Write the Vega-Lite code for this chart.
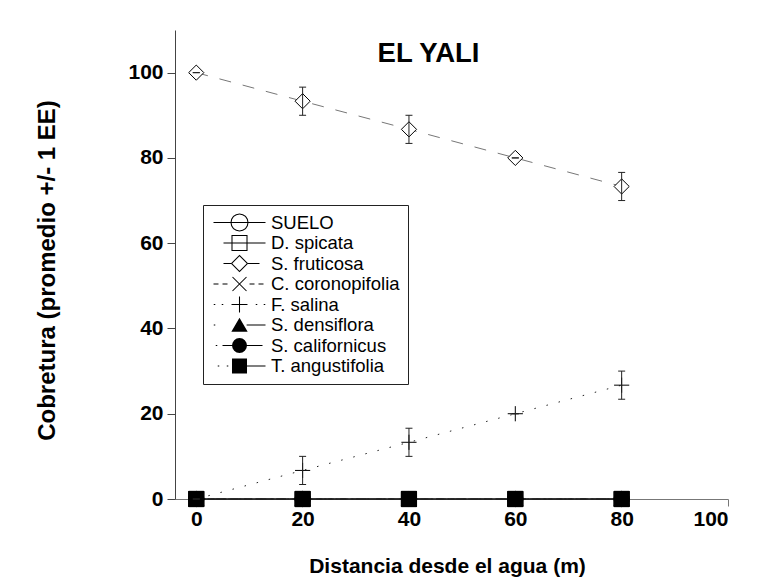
{
  "$schema": "https://vega.github.io/schema/vega-lite/v6.json",
  "width": 553,
  "height": 469,
  "autosize": {"type": "none"},
  "padding": {"left": 175, "top": 30, "right": 39, "bottom": 85},
  "background": "white",
  "config": {
    "view": {"stroke": null},
    "font": "Liberation Sans",
    "axisX": {"grid": false, "tickSize": 7, "labelPadding": 2, "labelFont": "Liberation Sans", "labelFontSize": 21, "labelFontWeight": "bold", "labelColor": "black", "domainColor": "#777", "tickColor": "#777", "titleFont": "Liberation Sans", "titleFontSize": 21, "titleFontWeight": "bold", "titleColor": "black", "titlePadding": 26, "titleX": 272},
    "axisY": {"grid": false, "tickSize": 8, "labelPadding": 4, "labelFont": "Liberation Sans", "labelFontSize": 21, "labelFontWeight": "bold", "labelColor": "black", "domainColor": "#444", "tickColor": "#444", "titleFont": "Liberation Sans", "titleFontSize": 24, "titleFontWeight": "bold", "titleColor": "black", "titlePadding": 68, "titleY": 240}
  },
  "title": {"text": "EL YALI", "fontSize": 27.5, "fontWeight": "bold", "font": "Liberation Sans", "color": "black", "anchor": "middle", "frame": "group", "dx": -23, "offset": -59, "baseline": "alphabetic"},
  "resolve": {"scale": {"shape": "independent"}},
  "datasets": {
    "pts": [
      {"species": "SUELO", "x": 0, "y": 0}, {"species": "SUELO", "x": 20, "y": 0}, {"species": "SUELO", "x": 40, "y": 0}, {"species": "SUELO", "x": 60, "y": 0}, {"species": "SUELO", "x": 80, "y": 0},
      {"species": "D. spicata", "x": 0, "y": 0}, {"species": "D. spicata", "x": 20, "y": 0}, {"species": "D. spicata", "x": 40, "y": 0}, {"species": "D. spicata", "x": 60, "y": 0}, {"species": "D. spicata", "x": 80, "y": 0},
      {"species": "S. fruticosa", "x": 0, "y": 100}, {"species": "S. fruticosa", "x": 20, "y": 93.3}, {"species": "S. fruticosa", "x": 40, "y": 86.7}, {"species": "S. fruticosa", "x": 60, "y": 80}, {"species": "S. fruticosa", "x": 80, "y": 73.3},
      {"species": "C. coronopifolia", "x": 0, "y": 0}, {"species": "C. coronopifolia", "x": 20, "y": 0}, {"species": "C. coronopifolia", "x": 40, "y": 0}, {"species": "C. coronopifolia", "x": 60, "y": 0}, {"species": "C. coronopifolia", "x": 80, "y": 0},
      {"species": "F. salina", "x": 0, "y": 0}, {"species": "F. salina", "x": 20, "y": 6.7}, {"species": "F. salina", "x": 40, "y": 13.3}, {"species": "F. salina", "x": 60, "y": 20}, {"species": "F. salina", "x": 80, "y": 26.7},
      {"species": "S. densiflora", "x": 0, "y": 0}, {"species": "S. densiflora", "x": 20, "y": 0}, {"species": "S. densiflora", "x": 40, "y": 0}, {"species": "S. densiflora", "x": 60, "y": 0}, {"species": "S. densiflora", "x": 80, "y": 0},
      {"species": "S. californicus", "x": 0, "y": 0}, {"species": "S. californicus", "x": 20, "y": 0}, {"species": "S. californicus", "x": 40, "y": 0}, {"species": "S. californicus", "x": 60, "y": 0}, {"species": "S. californicus", "x": 80, "y": 0},
      {"species": "T. angustifolia", "x": 0, "y": 0}, {"species": "T. angustifolia", "x": 20, "y": 0}, {"species": "T. angustifolia", "x": 40, "y": 0}, {"species": "T. angustifolia", "x": 60, "y": 0}, {"species": "T. angustifolia", "x": 80, "y": 0}
    ],
    "err": [
      {"species": "S. fruticosa", "x": 0, "lo": 100, "hi": 100},
      {"species": "S. fruticosa", "x": 20, "lo": 90, "hi": 96.6},
      {"species": "S. fruticosa", "x": 40, "lo": 83.4, "hi": 90},
      {"species": "S. fruticosa", "x": 60, "lo": 80, "hi": 80},
      {"species": "S. fruticosa", "x": 80, "lo": 70, "hi": 76.6},
      {"species": "F. salina", "x": 0, "lo": 0, "hi": 0},
      {"species": "F. salina", "x": 20, "lo": 3.4, "hi": 10},
      {"species": "F. salina", "x": 40, "lo": 10, "hi": 16.6},
      {"species": "F. salina", "x": 60, "lo": 20, "hi": 20},
      {"species": "F. salina", "x": 80, "lo": 23.4, "hi": 30}
    ]
  },
  "encoding": {
    "x": {"field": "x", "type": "quantitative", "scale": {"domain": [-4, 100], "nice": false, "zero": false}, "axis": {"values": [0, 20, 40, 60, 80, 100], "title": "Distancia desde el agua (m)"}}
  },
  "layer": [
    {
      "data": {"name": "pts"},
      "mark": {"type": "line", "strokeWidth": 1},
      "encoding": {
        "y": {"field": "y", "type": "quantitative", "scale": {"domain": [0, 110], "nice": false}, "axis": {"values": [0, 20, 40, 60, 80, 100], "title": "Cobretura (promedio +/- 1 EE)"}},
        "detail": {"field": "species", "type": "nominal"},
        "strokeDash": {"condition": [
          {"test": "datum.species === 'S. fruticosa'", "value": [12, 12]},
          {"test": "datum.species === 'C. coronopifolia'", "value": [6, 6]},
          {"test": "datum.species === 'F. salina'", "value": [1.5, 11]},
          {"test": "datum.species === 'S. densiflora'", "value": [10, 4, 2, 4]},
          {"test": "datum.species === 'S. californicus'", "value": [8, 3, 2, 3]}
        ], "value": [1, 0]},
        "stroke": {"condition": {"test": "datum.species === 'S. fruticosa'", "value": "#777"}, "value": "#222"}
      }
    },
    {
      "data": {"name": "pts"},
      "mark": {"type": "point", "filled": true, "fill": "black", "strokeWidth": 0, "opacity": 0, "size": 361},
      "encoding": {
        "y": {"field": "y", "type": "quantitative", "title": "Cobretura (promedio +/- 1 EE)"},
        "shape": {"field": "species", "type": "nominal",
          "scale": {"domain": ["SUELO", "D. spicata", "S. fruticosa", "C. coronopifolia", "F. salina", "S. densiflora", "S. californicus", "T. angustifolia"],
                    "range": [
                      "M-0.737,-0.055H4.737V0.055H-0.737ZM2.95,0L2.878,0.364L2.672,0.672L2.364,0.878L2,0.95L1.636,0.878L1.328,0.672L1.122,0.364L1.05,0L1.122,-0.364L1.328,-0.672L1.636,-0.878L2,-0.95L2.364,-0.878L2.672,-0.672L2.878,-0.364ZM2.84,0L2.776,-0.321L2.594,-0.594L2.321,-0.776L2,-0.84L1.679,-0.776L1.406,-0.594L1.224,-0.321L1.16,0L1.224,0.321L1.406,0.594L1.679,0.776L2,0.84L2.321,0.776L2.594,0.594L2.776,0.321Z",
                      "M0.316,-0.055H4.737V0.055H0.316ZM1.155,-0.845H2.845V0.845H1.155ZM1.265,-0.735V0.735H2.735V-0.735Z",
                      "M0.316,-0.055H1.1V0.055H0.316ZM2.9,-0.055H4.105V0.055H2.9ZM2,-0.918L2.918,0L2,0.918L1.082,0ZM2,-0.762L1.238,0L2,0.762L2.762,0Z",
                      "M-0.737,-0.055H-0.211V0.055H-0.737ZM0.211,-0.055H0.737V0.055H0.211ZM1.302,-0.776L2.776,0.698L2.698,0.776L1.224,-0.698ZM1.224,0.698L2.698,-0.776L2.776,-0.698L1.302,0.776ZM3.053,-0.055H3.579V0.055H3.053ZM4,-0.055H4.526V0.055H4Z",
                      "M-0.71,-0.055H-0.55V0.055H-0.71ZM0.13,-0.055H0.29V0.055H0.13ZM1.16,-0.055H2.84V0.055H1.16ZM1.945,-0.84H2.055V0.84H1.945ZM3.71,-0.055H3.87V0.055H3.71ZM4.55,-0.055H4.71V0.055H4.55Z",
                      "M-0.71,-0.055H-0.55V0.055H-0.71ZM2,-0.76L2.86,0.72L1.14,0.72ZM2.75,-0.055H4.737V0.055H2.75Z",
                      "M-0.5,-0.055H-0.34V0.055H-0.5ZM0.211,-0.055H1.3V0.055H0.211ZM2.7,-0.055H4.421V0.055H2.7ZM2.79,0L2.73,0.302L2.559,0.559L2.302,0.73L2,0.79L1.698,0.73L1.441,0.559L1.27,0.302L1.21,0L1.27,-0.302L1.441,-0.559L1.698,-0.73L2,-0.79L2.302,-0.73L2.559,-0.559L2.73,-0.302Z",
                      "M-0.29,-0.055H-0.13V0.055H-0.29ZM0.66,-0.055H0.82V0.055H0.66ZM1.21,-0.79H2.79V0.79H1.21ZM2.75,-0.055H4.737V0.055H2.75Z"
                    ]},
          "legend": {
            "title": null, "orient": "none", "legendX": 28, "legendY": 175,
            "strokeColor": "#222", "fillColor": "white", "padding": 8,
            "symbolSize": 361, "symbolOffset": 0, "rowPadding": 1.5,
            "symbolFillColor": "black", "symbolStrokeWidth": 0, "symbolOpacity": 1,
            "labelFont": "Liberation Sans", "labelFontSize": 18.5, "labelColor": "black", "labelOffset": 41
          }
        }
      }
    },
    {
      "data": {"name": "pts"},
      "mark": {"type": "point", "filled": true, "size": 230, "stroke": "black", "strokeWidth": 1, "opacity": 1},
      "encoding": {
        "y": {"field": "y", "type": "quantitative", "title": "Cobretura (promedio +/- 1 EE)"},
        "fill": {"condition": {"test": "indexof(['S. densiflora', 'S. californicus', 'T. angustifolia'], datum.species) >= 0", "value": "black"}, "value": "white"},
        "shape": {"field": "species", "type": "nominal", "legend": null,
          "scale": {"domain": ["SUELO", "D. spicata", "S. fruticosa", "C. coronopifolia", "F. salina", "S. densiflora", "S. californicus", "T. angustifolia"],
                    "range": ["circle", "square", "diamond", "M-1,-1L1,1M-1,1L1,-1", "M-1,0H1M0,-1V1", "triangle-up", "circle", "square"]}
        }
      }
    },
    {
      "data": {"name": "err"},
      "mark": {"type": "rule", "stroke": "#222", "strokeWidth": 1},
      "encoding": {
        "y": {"field": "lo", "type": "quantitative", "title": "Cobretura (promedio +/- 1 EE)"},
        "y2": {"field": "hi"}
      }
    },
    {
      "data": {"name": "err"},
      "mark": {"type": "tick", "orient": "horizontal", "size": 7, "thickness": 1, "color": "#222", "opacity": 1},
      "encoding": {
        "y": {"field": "lo", "type": "quantitative", "title": "Cobretura (promedio +/- 1 EE)"}
      }
    },
    {
      "data": {"name": "err"},
      "mark": {"type": "tick", "orient": "horizontal", "size": 7, "thickness": 1, "color": "#222", "opacity": 1},
      "encoding": {
        "y": {"field": "hi", "type": "quantitative", "title": "Cobretura (promedio +/- 1 EE)"}
      }
    }
  ]
}
